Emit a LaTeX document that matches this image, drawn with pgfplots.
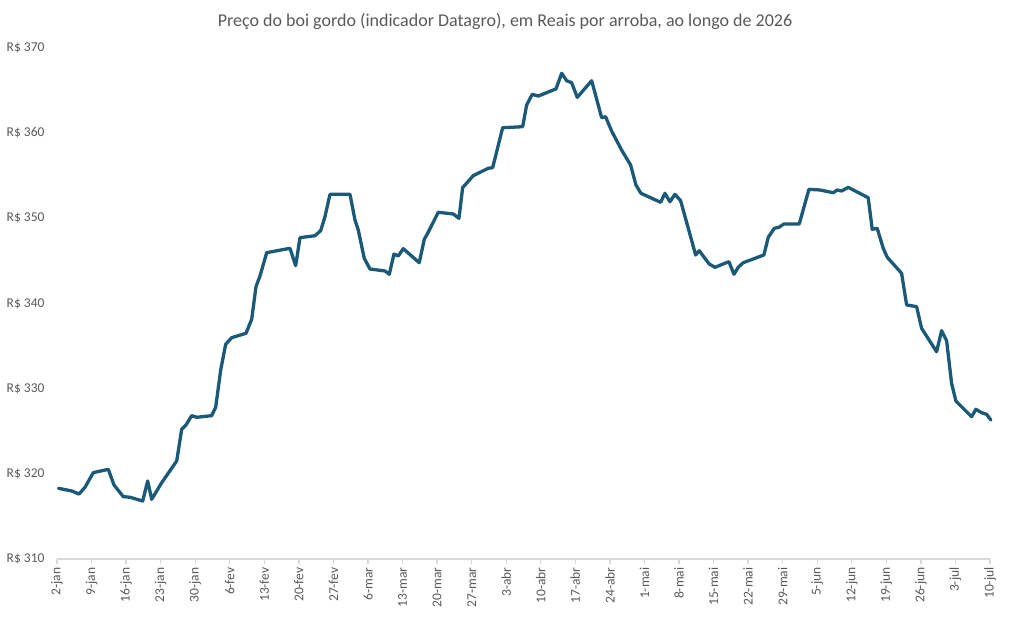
\documentclass[border=0pt]{standalone}
\usepackage{fontspec}
\setmainfont{Carlito}
\usepackage{pgfplots}
\pgfplotsset{compat=1.18}
\definecolor{linec}{RGB}{27,89,120}
\definecolor{labc}{RGB}{89,89,89}
\definecolor{axc}{RGB}{217,217,217}
\begin{document}
\begin{tikzpicture}
\useasboundingbox (-57pt,-71pt) rectangle (954pt,559pt);
\begin{axis}[
  at={(0pt,0pt)}, anchor=south west,
  scale only axis, width=933pt, height=511pt,
  xmin=0, xmax=189, ymin=310, ymax=370,
  axis lines*=left,
  y axis line style={draw=none},
  x axis line style={draw=axc, line width=1.3pt},
  ytick={310,320,...,370},
  ytick style={draw=none},
  yticklabel={R\$ \pgfmathprintnumber{\tick}},
  yticklabel style={font=\fontsize{13.5}{15}\selectfont, color=labc, anchor=east, xshift=-4pt},
  xtick={0,7,...,189},
  xticklabels={2-jan,9-jan,16-jan,23-jan,30-jan,6-fev,13-fev,20-fev,27-fev,6-mar,13-mar,20-mar,27-mar,3-abr,10-abr,17-abr,24-abr,1-mai,8-mai,15-mai,22-mai,29-mai,5-jun,12-jun,19-jun,26-jun,3-jul,10-jul},
  xticklabel style={font=\fontsize{13.5}{15}\selectfont, color=labc, rotate=90, anchor=east},
  tick align=outside,
  xtick style={draw=axc, line width=1.3pt},
  major tick length=5pt,
  /pgf/number format/assume math mode=true,
  clip=false,
]
\addplot[color=linec, line width=3.3pt, line join=round, line cap=round] coordinates {
(0.3,318.30) (2.98,317.99) (4.46,317.63) (5.67,318.42) (7.35,320.14)
(10.39,320.53) (11.55,318.69) (13.43,317.32) (14.79,317.25) (17.36,316.81)
(18.37,319.16) (19.18,317.01) (21.21,318.96) (24.25,321.51) (25.26,325.23)
(26.13,325.74) (27.28,326.83) (28.30,326.64) (31.33,326.83) (32.14,327.81)
(33.16,332.19) (34.17,335.21) (35.39,335.99) (38.28,336.50) (39.44,338.15)
(40.31,341.97) (41.12,343.23) (42.48,345.97) (47.19,346.48) (48.35,344.44)
(49.22,347.73) (52.26,347.96) (53.41,348.55) (54.28,350.19) (55.30,352.82)
(59.35,352.82) (60.36,349.81) (61.03,348.63) (62.24,345.31) (63.40,344.05)
(66.44,343.82) (67.31,343.43) (68.26,345.81) (69.13,345.58) (70.14,346.44)
(73.38,344.79) (74.40,347.54) (75.01,348.16) (77.23,350.71) (80.27,350.51)
(81.43,350.00) (82.17,353.60) (84.32,355.01) (87.36,355.88) (88.25,355.95)
(90.28,360.64) (94.33,360.76) (95.14,363.31) (96.27,364.56) (97.49,364.36)
(101.07,365.19) (102.23,367.03) (103.24,366.16) (104.25,365.93) (105.39,364.21)
(108.31,366.16) (110.33,361.82) (111.14,361.93) (112.35,360.25) (114.38,358.02)
(116.20,356.26) (117.28,353.91) (118.29,352.94) (122.28,351.88) (123.15,352.94)
(124.16,351.95) (125.18,352.82) (126.33,352.07) (129.37,345.70) (130.10,346.20)
(132.12,344.64) (133.28,344.25) (136.11,344.91) (137.13,343.43) (138.00,344.25)
(139.01,344.79) (143.20,345.70) (144.08,347.77) (145.29,348.83) (146.24,348.95)
(147.26,349.34) (150.36,349.34) (152.32,353.41) (154.55,353.33) (157.24,353.01)
(158.05,353.33) (158.94,353.21) (160.28,353.64) (164.33,352.42) (165.14,348.71)
(166.15,348.83) (167.37,346.48) (168.18,345.43) (171.09,343.55) (172.11,339.83)
(174.13,339.63) (175.14,337.09) (178.18,334.34) (179.19,336.81) (180.21,335.63)
(181.22,330.63) (182.09,328.55) (185.27,326.71) (186.14,327.58) (187.30,327.18)
(188.31,326.99) (189.18,326.32)
};
\end{axis}
\node[font=\fontsize{18}{21}\selectfont, color=labc] at (448pt,538pt) {Preço do boi gordo (indicador Datagro), em Reais por arroba, ao longo de 2026};
\end{tikzpicture}
\end{document}
